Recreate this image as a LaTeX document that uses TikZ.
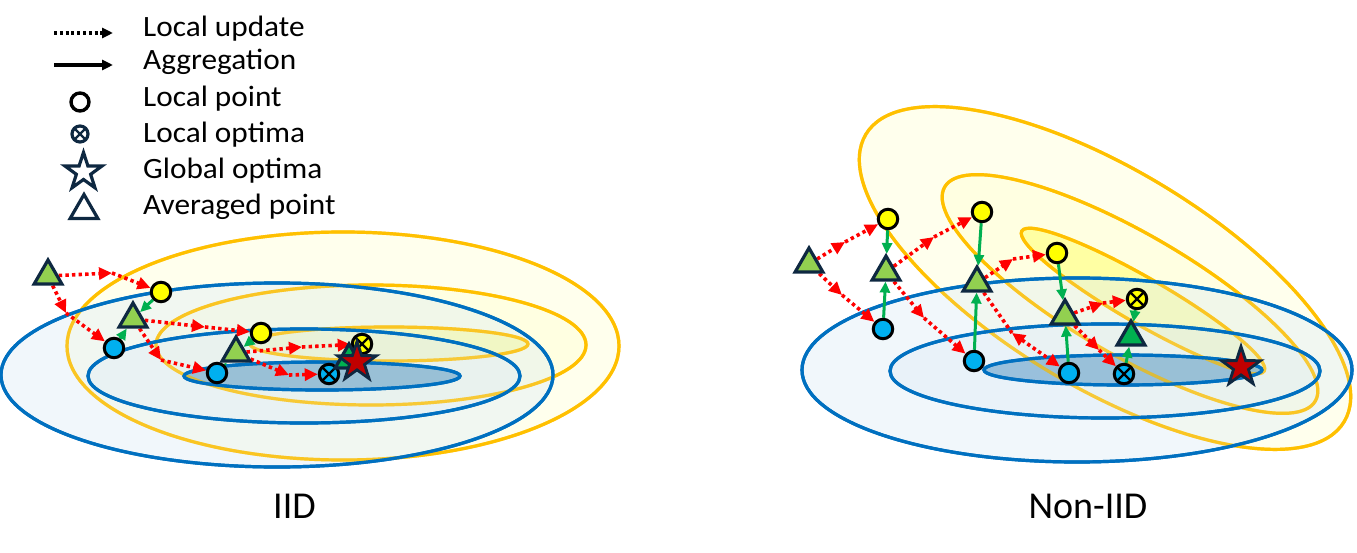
\documentclass[tikz,border=0pt]{standalone}
\usepackage{fontspec}
\setmainfont{Carlito}
\newfontfamily\legfont[FakeStretch=1.06]{Carlito}
\usetikzlibrary{shapes.geometric,arrows.meta}
\pgfdeclarelayer{back}
\pgfdeclarelayer{mid}
\pgfsetlayers{back,mid,main}
\definecolor{yline}{HTML}{FFC000}
\definecolor{bline}{HTML}{0070C0}
\definecolor{navy}{HTML}{0E2841}
\definecolor{lgreen}{HTML}{92D050}
\definecolor{dgreen}{HTML}{00B050}
\definecolor{sky}{HTML}{00B0F0}
\definecolor{ylw}{HTML}{FFFF00}
\definecolor{starred}{HTML}{C00000}
\definecolor{bfill}{HTML}{DEEBF7}
\definecolor{binfill}{HTML}{4A8FC0}
\definecolor{yfill}{HTML}{FFFFCC}
\definecolor{yinfill}{HTML}{FFFF66}
\tikzset{
  yell/.style={draw=yline, line width=3.2pt, fill=yfill, fill opacity=.35},
  yellin/.style={draw=yline, line width=3.2pt, fill=yinfill, fill opacity=.5},
  yover/.style={draw=yline, line width=3.2pt, draw opacity=.65},
  blu/.style={draw=bline, line width=3.2pt, fill=bfill, fill opacity=.4},
  bluin/.style={draw=bline, line width=3.2pt, fill=binfill, fill opacity=.5},
  lpt/.style={circle, draw=black, line width=3pt, minimum size=19.5pt, inner sep=0pt},
  ypt/.style={lpt, fill=ylw},
  bpt/.style={lpt, fill=sky},
  xmark/.style={path picture={\draw[line width=2.4pt, draw=#1]
      (path picture bounding box.north west) -- (path picture bounding box.south east)
      (path picture bounding box.north east) -- (path picture bounding box.south west);}},
  yopt/.style={ypt, xmark=black},
  bopt/.style={bpt, xmark=black},
  avg/.style={regular polygon, regular polygon sides=3, draw=navy, line width=3.2pt,
      fill=lgreen, minimum size=32pt, inner sep=0pt},
  avgd/.style={avg, fill=dgreen},
  gopt/.style={star, star points=5, star point ratio=2.6, draw=navy, line width=2.8pt,
      fill=starred, minimum size=41pt, inner sep=0pt},
  upd/.style={draw=red, line width=3.6pt, dash pattern=on 3.4pt off 3.2pt,
      -{Triangle[length=13pt,width=12pt]}},
  updr/.style={draw=red, line width=3.6pt, dash pattern=on 3.4pt off 3.2pt,
      {Triangle[length=13pt,width=12pt]}-{Triangle[length=13pt,width=12pt]}},
  updp/.style={draw=red, line width=3.6pt, dash pattern=on 3.4pt off 3.2pt},
  agg/.style={draw=dgreen, line width=3pt, -{Triangle[length=11pt,width=10pt]}},
  legupd/.style={draw=black, line width=3.2pt, dash pattern=on 3pt off 2.8pt,
      -{Triangle[length=11pt,width=10pt]}},
  legagg/.style={draw=black, line width=3.2pt, -{Triangle[length=11pt,width=10pt]}},
  legtxt/.style={anchor=base west, inner sep=0pt, font=\legfont\fontsize{29.5}{32}\selectfont},
  captxt/.style={anchor=base, inner sep=0pt, font=\fontsize{38}{40}\selectfont},
}
\begin{document}
\begin{tikzpicture}[x=1pt,y=-1pt]
\useasboundingbox (0,0) rectangle (1357,553);

% ---------- contours ----------
\begin{pgfonlayer}{back}
  \fill[white] (0,0) rectangle (1357,553);
  % IID
  \path[yell] (343,346) ellipse [x radius=276, y radius=114];
  \path[yell] (371,345) ellipse [x radius=215, y radius=60];
  \path[yellin] (389,344) ellipse [x radius=139, y radius=17];
  \path[blu] (277,375) ellipse [x radius=276, y radius=92];
  \path[blu] (304,376) ellipse [x radius=216, y radius=47];
  \path[bluin] (322,376) ellipse [x radius=138, y radius=14];
  \path[yover] (343,346) ellipse [x radius=276, y radius=114];
  \path[yover] (371,345) ellipse [x radius=215, y radius=60];
  \path[yover] (389,344) ellipse [x radius=139, y radius=17];
  \path[draw=bline, line width=3.2pt] (277,375) ellipse [x radius=276, y radius=92];
  \path[draw=bline, line width=3.2pt] (304,376) ellipse [x radius=216, y radius=47];
  \path[draw=bline, line width=3.2pt] (322,376) ellipse [x radius=138, y radius=14];
  % Non-IID
  \path[yell, rotate around={-31:(1105,278)}] (1105,278) ellipse [x radius=279, y radius=109];
  \path[yell, rotate around={-30:(1130,294)}] (1130,294) ellipse [x radius=214, y radius=61];
  \path[yellin, rotate around={-30:(1143,301)}] (1143,301) ellipse [x radius=140, y radius=23];
  \path[blu] (1077,370) ellipse [x radius=275, y radius=92];
  \path[blu] (1105,371) ellipse [x radius=215, y radius=47];
  \path[bluin] (1123,370) ellipse [x radius=139, y radius=15];
  \path[yover, rotate around={-31:(1105,278)}] (1105,278) ellipse [x radius=279, y radius=109];
  \path[yover, rotate around={-30:(1130,294)}] (1130,294) ellipse [x radius=214, y radius=61];
  \path[yover, rotate around={-30:(1143,301)}] (1143,301) ellipse [x radius=140, y radius=23];
  \path[draw=bline, line width=3.2pt] (1077,370) ellipse [x radius=275, y radius=92];
  \path[draw=bline, line width=3.2pt] (1105,371) ellipse [x radius=215, y radius=47];
  \path[draw=bline, line width=3.2pt] (1123,370) ellipse [x radius=139, y radius=15];
\end{pgfonlayer}

% ---------- legend ----------
\coordinate (lu1) at (54,33);
\coordinate (lu2) at (113,33);
\coordinate (la1) at (54,65);
\coordinate (la2) at (113,65);
\draw[legupd] (lu1) -- (lu2);
\draw[legagg] (la1) -- (la2);
\node[circle, draw=black, line width=3.4pt, fill=white, minimum size=18pt, inner sep=0pt] (lgc) at (80,102) {};
\node[circle, draw=navy, line width=3.2pt, fill=white, minimum size=16pt, inner sep=0pt, xmark=navy] (lgo) at (80,134) {};
\node[star, star points=5, star point ratio=2.6, draw=navy, line width=3.2pt, fill=white, minimum size=39pt, inner sep=0pt] (lgs) at (83.5,172) {};
\node[regular polygon, regular polygon sides=3, draw=navy, line width=3.2pt, fill=white, minimum size=32pt, inner sep=0pt] (lgt) at (84,210.5) {};
\node[legtxt] (t1) at (143,37) {Local update};
\node[legtxt] (t2) at (143,70) {Aggregation};
\node[legtxt] (t3) at (143,107) {Local point};
\node[legtxt] (t4) at (143,143) {Local optima};
\node[legtxt] (t5) at (143,179) {Global optima};
\node[legtxt] (t6) at (143,215) {Averaged point};

% ---------- IID points ----------
\node[avg] (A0) at (48,276) {};
\node[ypt] (Y1) at (161,292) {};
\node[bpt] (B1) at (114,348) {};
\node[avg] (A1) at (133,319) {};
\node[ypt] (Y2) at (261,333) {};
\node[bpt] (B2) at (217,373) {};
\node[avg] (A2) at (236,353) {};
\node[yopt] (YO) at (362,344) {};
\node[bopt] (BO) at (329,374) {};
\node[avgd] (A3) at (349,360) {};
\node[gopt] (S1) at (357,362) {};

\coordinate (m1) at (112,273);
\coordinate (m2) at (66,313);
\coordinate (m3) at (205,327);
\coordinate (m4) at (161,360);
\coordinate (m5) at (302,347);
\coordinate (m6) at (289,375);

\begin{pgfonlayer}{mid}
  \draw[upd] (A0) -- (m1); \draw[upd] (m1) -- (Y1);
  \draw[upd] (A0) -- (m2); \draw[upd] (m2) -- (B1);
  \draw[agg] (Y1) -- (A1); \draw[agg] (B1) -- (A1);
  \draw[upd] (A1) -- (m3); \draw[upd] (m3) -- (Y2);
  \draw[upd] (A1) -- (m4); \draw[upd] (m4) -- (B2);
  \draw[agg] (Y2) -- (A2); \draw[agg] (B2) -- (A2);
  \draw[upd] (A2) -- (m5); \draw[upd] (m5) -- (YO);
  \draw[upd] (A2) -- (m6); \draw[upd] (m6) -- (BO);
  \draw[agg] (YO) -- (A3); \draw[agg] (BO) -- (A3);
\end{pgfonlayer}

% ---------- Non-IID points ----------
\node[avg] (RA0) at (809,264) {};
\node[ypt] (RY1) at (888,219) {};
\node[bpt] (RB1) at (883,329) {};
\node[avg] (RA1) at (886,272) {};
\node[ypt] (RY2) at (982,212) {};
\node[bpt] (RB2) at (974,361) {};
\node[avg] (RA2) at (977,283) {};
\node[ypt] (RY3) at (1057,253) {};
\node[bpt] (RB3) at (1069,373) {};
\node[avg] (RA3) at (1065,316) {};
\node[yopt] (RYO) at (1137,299) {};
\node[bopt] (RBO) at (1124,374) {};
\node[avgd] (RA4) at (1131,337) {};
\node[gopt] (S2) at (1241,367) {};

\coordinate (rm1) at (845,242);
\coordinate (rm2) at (842,295);
\coordinate (rm3) at (934,237);
\coordinate (rm4) at (924,318);
\coordinate (rm5) at (1013,259);
\coordinate (rm6) at (1012,333);
\coordinate (rm7) at (1103,303);
\coordinate (rm8) at (1099,350);

\begin{pgfonlayer}{mid}
  \draw[upd] (RA0) -- (rm1); \draw[upd] (rm1) -- (RY1);
  \draw[upd] (RA0) -- (rm2); \draw[upd] (rm2) -- (RB1);
  \draw[agg] (RY1) -- (RA1); \draw[agg] (RB1) -- (RA1);
  \draw[upd] (RA1) -- (rm3); \draw[upd] (rm3) -- (RY2);
  \draw[upd] (RA1) -- (rm4); \draw[upd] (rm4) -- (RB2);
  \draw[agg] (RY2) -- (RA2); \draw[agg] (RB2) -- (RA2);
  \draw[upd] (RA2) -- (rm5); \draw[upd] (rm5) -- (RY3);
  \draw[updp] (RA2) -- (rm6); \draw[updr] (rm6) -- (RB3);
  \draw[agg] (RY3) -- (RA3); \draw[agg] (RB3) -- (RA3);
  \draw[upd] (RA3) -- (rm7); \draw[upd] (rm7) -- (RYO);
  \draw[upd] (RA3) -- (rm8); \draw[upd] (rm8) -- (RBO);
  \draw[agg] (RYO) -- (RA4); \draw[agg] (RBO) -- (RA4);
\end{pgfonlayer}

% ---------- captions ----------
\node[captxt] (cap1) at (294.5,518) {IID};
\node[captxt] (cap2) at (1088,518) {Non-IID};
\end{tikzpicture}
\end{document}
